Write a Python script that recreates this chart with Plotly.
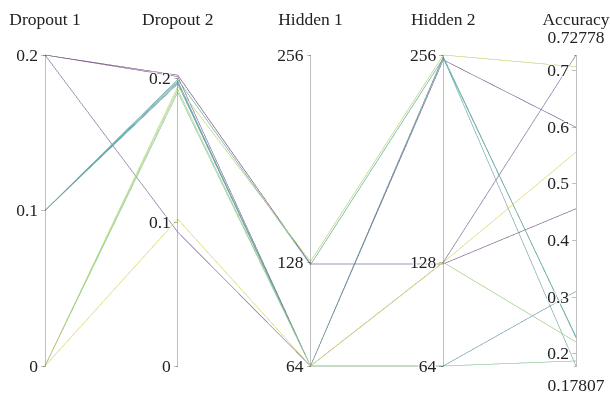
import plotly.graph_objects as go
from plotly.colors import sequential, hex_to_rgb

# Hyperparameter trials and their resulting accuracy
dropout_1 = [0.2, 0.2, 0.2, 0.1, 0.1, 0.1, 0.1, 0.0, 0.0, 0.0, 0.0]
dropout_2 = [0.093, 0.202, 0.201, 0.199, 0.198, 0.197, 0.196, 0.102, 0.194, 0.192, 0.190]
hidden_1 = [64, 127, 64, 126.5, 64, 64, 64, 64, 128.5, 64, 64]
hidden_2 = [128, 127, 253, 254, 255, 254.5, 64, 128, 256, 128, 64]
accuracy = [0.72778, 0.456, 0.600, 0.230, 0.228, 0.17807, 0.310, 0.556, 0.707, 0.2205, 0.187]
trial_color = [0.15, 0.02, 0.05, 0.55, 0.50, 0.45, 0.38, 0.98, 0.88, 0.80, 0.72]

dropout_ticks = [0, 0.1, 0.2]
dropout_ticktext = ["0", "0.1", "0.2"]
hidden_ticks = [64, 128, 256]
hidden_ticktext = ["64", "128", "256"]

font_family = "Liberation Serif"
text_color = "#222"


def soften(hex_color, amount=0.3):
    """Blend a colour toward white by the given amount."""
    r, g, b = hex_to_rgb(hex_color)
    mix = lambda c: int(round(c + (255 - c) * amount))
    return f"rgb({mix(r)},{mix(g)},{mix(b)})"


viridis = sequential.Viridis
soft_viridis = [[i / (len(viridis) - 1), soften(c)] for i, c in enumerate(viridis)]

fig = go.Figure(
    go.Parcoords(
        line=dict(color=trial_color, colorscale=soft_viridis, cmin=0, cmax=1),
        dimensions=[
            dict(label="Dropout 1", values=dropout_1, range=[0, 0.2],
                 tickvals=dropout_ticks, ticktext=dropout_ticktext),
            dict(label="Dropout 2", values=dropout_2, range=[0, 0.216],
                 tickvals=dropout_ticks, ticktext=dropout_ticktext),
            dict(label="Hidden 1", values=hidden_1, range=[64, 256],
                 tickvals=hidden_ticks, ticktext=hidden_ticktext),
            dict(label="Hidden 2", values=hidden_2, range=[64, 256],
                 tickvals=hidden_ticks, ticktext=hidden_ticktext),
            dict(label="Accuracy", values=accuracy),
        ],
        labelfont=dict(family=font_family, size=17.5, color=text_color),
        tickfont=dict(family=font_family, size=17.5, color=text_color),
        rangefont=dict(family=font_family, size=17.5, color=text_color),
    )
)

fig.update_layout(
    width=610,
    height=393,
    margin=dict(l=45, r=34, t=53, b=25),
    paper_bgcolor="white",
    plot_bgcolor="white",
)

fig.write_html("out.html")
